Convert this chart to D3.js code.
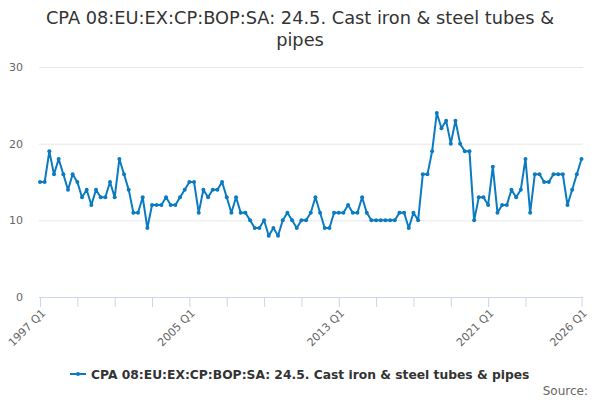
<!DOCTYPE html>
<html>
<head>
<meta charset="utf-8">
<script src="https://cdn.jsdelivr.net/npm/d3@7"></script>
<style>
body { margin: 0; background: #fff; }
text { font-family: "DejaVu Sans", sans-serif; }
</style>
</head>
<body>
<script>
// quarterly values, 1997 Q1 .. 2026 Q1
var values = [
    15,15,19,16,18,16,14,16,15,13,14,12,14,13,13,15,13,18,16,14,11,11,13,9,12,12,12,13,
    12,12,13,14,15,15,11,14,13,14,14,15,13,11,13,11,11,10,9,9,10,8,9,8,10,11,10,9,
    10,10,11,13,11,9,9,11,11,11,12,11,11,13,11,10,10,10,10,10,10,11,11,9,11,10,16,16,
    19,24,22,23,20,23,20,19,19,10,13,13,12,17,11,12,12,14,13,14,18,11,16,16,15,15,16,16,16,12,14,16,18
];
var firstYear = 1997;
var yTicks = [0, 10, 20, 30];
var xLabelIdx = [0, 32, 64, 96, 116];
var xTickIdx = [0, 8, 16, 24, 32, 40, 48, 56, 64, 72, 80, 88, 96, 104, 116];
var titleLines = ["CPA 08:EU:EX:CP:BOP:SA: 24.5. Cast iron & steel tubes &", "pipes"];
var seriesName = "CPA 08:EU:EX:CP:BOP:SA: 24.5. Cast iron & steel tubes & pipes";

var data = values.map(function(v, i) {
    return {idx: i, label: (firstYear + Math.floor(i/4)) + " Q" + (i%4 + 1), value: v};
});

var width = 600, height = 400;
var color = "#0b7bc1";

var svg = d3.select("body").append("svg")
    .attr("width", width)
    .attr("height", height);

var x = d3.scaleLinear().domain([0, values.length-1]).range([40, 581.5]);
var y = d3.scaleLinear().domain([0, 30]).range([297, 67]);

//заголовок
svg.selectAll("text.title").data(titleLines).enter().append("text")
    .attr("class", "title")
    .attr("x", 300)
    .attr("y", function(d, i) { return 24 + i*22; })
    .attr("text-anchor", "middle")
    .attr("fill", "#333")
    .style("font-size", "17.8px")
    .text(function(d) { return d; });

//сетка и подписи оси Y
var yAxis = d3.axisLeft(y).tickValues(yTicks).tickSize(-544).tickPadding(16);
var gy = svg.append("g").attr("transform", "translate(39,0)").call(yAxis);
gy.select(".domain").remove();
gy.selectAll(".tick line").attr("stroke", "#e6e6e6");
gy.selectAll(".tick text").attr("fill", "#666").style("font-size", "11px").attr("dy", "0.32em");

//ось X
var xAxis = d3.axisBottom(x).tickValues(xTickIdx).tickSize(10)
    .tickFormat(function(i) { return xLabelIdx.indexOf(i) >= 0 ? data[i].label : ""; });
var gx = svg.append("g").attr("transform", "translate(0,297)").call(xAxis);
gx.select(".domain").attr("stroke", "#ccd6eb").attr("d", "M39,0.5H583");
gx.selectAll(".tick line").attr("stroke", "#ccd6eb");
gx.selectAll(".tick text")
    .attr("fill", "#666")
    .style("font-size", "11px")
    .attr("text-anchor", "end")
    .attr("transform", "translate(3,14) rotate(-45)")
    .attr("dy", "0.35em")
    .attr("y", 0)
    .attr("x", 0);

//линия ряда
var line = d3.line()
    .x(function(d) { return x(d.idx); })
    .y(function(d) { return y(d.value); });

svg.append("path")
    .datum(data)
    .attr("d", line)
    .attr("fill", "none")
    .attr("stroke", color)
    .attr("stroke-width", 2)
    .attr("stroke-linejoin", "round");

svg.selectAll("circle.pt").data(data).enter().append("circle")
    .attr("class", "pt")
    .attr("cx", function(d) { return x(d.idx); })
    .attr("cy", function(d) { return y(d.value); })
    .attr("r", 2)
    .attr("fill", color);

//легенда
var lg = svg.append("g").attr("transform", "translate(70,374)");
lg.append("path").attr("d", "M0,0H16").attr("stroke", color).attr("stroke-width", 2);
lg.append("circle").attr("cx", 8).attr("cy", 0).attr("r", 2).attr("fill", color);
lg.append("text")
    .attr("x", 21)
    .attr("y", 4.5)
    .attr("fill", "#333")
    .style("font-size", "12.3px")
    .style("font-weight", "bold")
    .text(seriesName);

svg.append("text")
    .attr("x", 588)
    .attr("y", 395)
    .attr("text-anchor", "end")
    .attr("fill", "#666")
    .style("font-size", "12px")
    .text("Source:");
</script>
</body>
</html>
